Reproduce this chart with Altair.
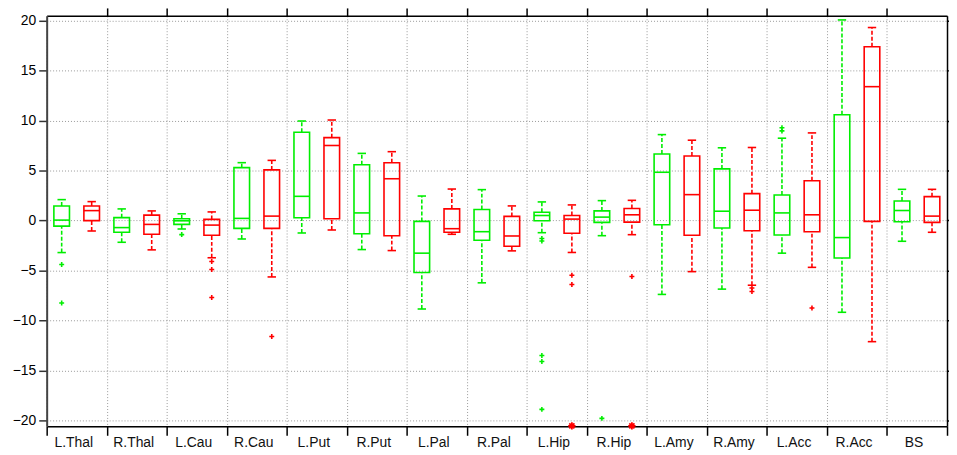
import altair as alt
import pandas as pd

regions = ["L.Thal", "R.Thal", "L.Cau", "R.Cau", "L.Put", "R.Put", "L.Pal", "R.Pal",
           "L.Hip", "R.Hip", "L.Amy", "R.Amy", "L.Acc", "R.Acc", "BS"]

# green group summary (upper whisker, q3, median, q1, lower whisker)
green_hi = [2.1, 1.17, 0.68, 5.8, 9.97, 6.73, 2.46, 3.1, 1.87, 2.0, 8.61, 7.29, 8.25, 20.09, 3.13]
green_q3 = [1.47, 0.3, 0.18, 5.3, 8.85, 5.6, -0.08, 1.11, 0.84, 0.97, 6.67, 5.18, 2.56, 10.6, 1.96]
green_med = [0.05, -0.7, -0.02, 0.22, 2.43, 0.77, -3.26, -1.11, 0.51, 0.35, 4.84, 0.94, 0.77, -1.7, 1.01]
green_q1 = [-0.55, -1.17, -0.38, -0.78, 0.28, -1.31, -5.2, -1.97, -0.02, -0.18, -0.42, -0.74, -1.44, -3.75, -0.12]
green_lo = [-3.2, -2.17, -0.84, -1.84, -1.24, -2.9, -8.85, -6.23, -1.21, -1.51, -7.39, -6.86, -3.26, -9.18, -2.07]

# red group summary
red_hi = [1.9, 0.97, 0.87, 6.03, 10.07, 6.9, 3.16, 1.47, 1.57, 2.03, 8.05, 7.32, 8.78, 19.33, 3.13]
red_q3 = [1.47, 0.55, 0.12, 5.08, 8.31, 5.8, 1.17, 0.42, 0.51, 1.21, 6.47, 2.7, 3.99, 17.41, 2.4]
red_med = [1.0, -0.38, -0.45, 0.45, 7.52, 4.19, -0.81, -1.54, 0.15, 0.58, 2.6, 1.04, 0.58, 13.41, 0.45]
red_q1 = [0.0, -1.37, -1.47, -0.78, 0.18, -1.51, -1.17, -2.56, -1.27, -0.15, -1.47, -1.01, -1.11, -0.08, -0.18]
red_lo = [-1.04, -2.93, -3.72, -5.64, -0.94, -3.0, -1.37, -3.03, -3.19, -1.41, -5.11, -6.47, -4.68, -12.12, -1.17]

# outliers: (region, group, value)
outlier_region = ["L.Thal", "L.Thal", "L.Cau", "L.Cau", "L.Cau", "L.Cau", "R.Cau",
                  "L.Hip", "L.Hip", "L.Hip", "L.Hip", "L.Hip", "L.Hip", "L.Hip",
                  "R.Hip", "R.Hip", "R.Amy", "R.Amy", "L.Acc", "L.Acc", "L.Acc"]
outlier_group = ["green", "green", "green", "red", "red", "red", "red",
                 "green", "green", "green", "green", "green", "red", "red",
                 "green", "red", "red", "red", "green", "green", "red"]
outlier_value = [-4.4, -8.25, -1.4, -4.1, -4.9, -7.7, -11.6,
                 -1.8, -2.05, -13.5, -14.1, -18.9, -5.47, -6.4,
                 -19.8, -5.6, -6.75, -7.1, 9.3, 8.98, -8.75]

# outliers beyond the plotted range, drawn at the lower limit
clipped_region = ["L.Hip", "R.Hip"]
clipped_group = ["red", "red"]
clipped_value = [-20.55, -20.55]

y_ticks = [-20, -15, -10, -5, 0, 5, 10, 15, 20]

rows = []
for i, r in enumerate(regions):
    rows.append(dict(region=r, idx=i, group="green", hi=green_hi[i], q3=green_q3[i],
                     med=green_med[i], q1=green_q1[i], lo=green_lo[i]))
    rows.append(dict(region=r, idx=i, group="red", hi=red_hi[i], q3=red_q3[i],
                     med=red_med[i], q1=red_q1[i], lo=red_lo[i]))
boxes = pd.DataFrame(rows)

outl = pd.DataFrame(dict(region=outlier_region, group=outlier_group, value=outlier_value))
outl["idx"] = outl["region"].map({r: i for i, r in enumerate(regions)})
clip = pd.DataFrame(dict(region=clipped_region, group=clipped_group, value=clipped_value))
clip["idx"] = clip["region"].map({r: i for i, r in enumerate(regions)})
labels = pd.DataFrame(dict(region=regions, idx=list(range(len(regions)))))

FONT = "Liberation Sans"
xs = alt.Scale(domain=[0, 15], nice=False, zero=False)
ys = alt.Scale(domain=[-20.6, 20.5], nice=False, zero=False)
col = alt.Scale(domain=["green", "red"], range=["#00ee00", "#ff0000"])

pos_calc = dict(
    pos="datum.idx + (datum.group == 'green' ? 0.25 : 0.75)",
)

def base(df):
    return alt.Chart(df).transform_calculate(**pos_calc).transform_calculate(
        bx="datum.pos - 0.13", bx2="datum.pos + 0.13",
        cx="datum.pos - 0.07", cx2="datum.pos + 0.07")

stroke = alt.Stroke("group:N", scale=col, legend=None)

axis_bottom = alt.Axis(orient="bottom", values=list(range(16)), labels=False, title=None,
                       tickSize=9, tickColor="#000", tickWidth=1.5,
                       domainColor="#000", domainWidth=1.5,
                       grid=True, gridDash=[1, 2], gridColor="#999", gridWidth=1)
axis_left = alt.Axis(orient="left", values=y_ticks, title=None, tickSize=8,
                     tickColor="#333", tickWidth=1.5, domainColor="#444", domainWidth=2,
                     labelFont=FONT, labelFontSize=14, labelColor="#000", labelPadding=3,
                     grid=True, gridDash=[1, 2], gridColor="#999", gridWidth=1)
axis_top = alt.Axis(orient="top", values=list(range(1, 15)), labels=False, title=None,
                    tickSize=8, tickColor="#000", tickWidth=1.5,
                    domainColor="#000", domainWidth=1.5, grid=False)
axis_right = alt.Axis(orient="right", values=y_ticks, labels=False, title=None,
                      tickSize=4, tickColor="#000", tickWidth=1.5,
                      domainColor="#000", domainWidth=1.5, grid=False)

box = base(boxes).mark_rect(fillOpacity=0, strokeWidth=1.6).encode(
    x=alt.X("bx:Q", scale=xs, axis=axis_bottom),
    x2="bx2:Q",
    y=alt.Y("q1:Q", scale=ys, axis=axis_left),
    y2="q3:Q",
    stroke=stroke,
)

wh_up = base(boxes).mark_rule(strokeDash=[4, 2], strokeWidth=1.6).encode(
    x=alt.X("pos:Q", scale=xs, axis=axis_top),
    y=alt.Y("q3:Q", scale=ys, axis=axis_right),
    y2="hi:Q",
    color=alt.Color("group:N", scale=col, legend=None),
)
wh_lo = base(boxes).mark_rule(strokeDash=[4, 2], strokeWidth=1.6).encode(
    x=alt.X("pos:Q", scale=xs, axis=None),
    y=alt.Y("lo:Q", scale=ys, axis=None),
    y2="q1:Q",
    color=alt.Color("group:N", scale=col, legend=None),
)
cap_up = base(boxes).mark_rule(strokeWidth=1.6).encode(
    x=alt.X("cx:Q", scale=xs, axis=None), x2="cx2:Q",
    y=alt.Y("hi:Q", scale=ys, axis=None),
    color=alt.Color("group:N", scale=col, legend=None),
)
cap_lo = base(boxes).mark_rule(strokeWidth=1.6).encode(
    x=alt.X("cx:Q", scale=xs, axis=None), x2="cx2:Q",
    y=alt.Y("lo:Q", scale=ys, axis=None),
    color=alt.Color("group:N", scale=col, legend=None),
)
median = base(boxes).mark_rule(strokeWidth=1.6).encode(
    x=alt.X("bx:Q", scale=xs, axis=None), x2="bx2:Q",
    y=alt.Y("med:Q", scale=ys, axis=None),
    color=alt.Color("group:N", scale=col, legend=None),
)
outliers = base(outl).mark_point(shape="M-1,0H1M0,-1V1", size=25, filled=False,
                                 strokeWidth=1.6, opacity=1).encode(
    x=alt.X("pos:Q", scale=xs, axis=None),
    y=alt.Y("value:Q", scale=ys, axis=None),
    stroke=stroke,
)
clipped = base(clip).mark_point(
    shape="M-1,0H1M0,-1V1M-0.7,-0.7L0.7,0.7M-0.7,0.7L0.7,-0.7",
    size=55, filled=False, strokeWidth=1.8, opacity=1, clip=False).encode(
    x=alt.X("pos:Q", scale=xs, axis=None),
    y=alt.Y("value:Q", scale=ys, axis=None),
    stroke=stroke,
)
text = alt.Chart(labels).transform_calculate(cx="datum.idx + 0.5").mark_text(
    font=FONT, fontSize=14, fontWeight="normal", color="#111", baseline="middle", dx=-3).encode(
    x=alt.X("cx:Q", scale=xs, axis=None),
    y=alt.value(431),
    text="region:N",
)

chart = alt.layer(box, wh_up, wh_lo, cap_up, cap_lo, median, outliers, clipped, text).resolve_axis(
    x="independent", y="independent"
).properties(
    width=908, height=414,
    autosize=alt.AutoSizeParams(type="none"),
    padding={"left": 39, "top": 6, "right": 2, "bottom": 30},
).configure_view(stroke=None).configure(background="white")

chart.save("out.html", embed_options={"renderer": "svg", "actions": False})
